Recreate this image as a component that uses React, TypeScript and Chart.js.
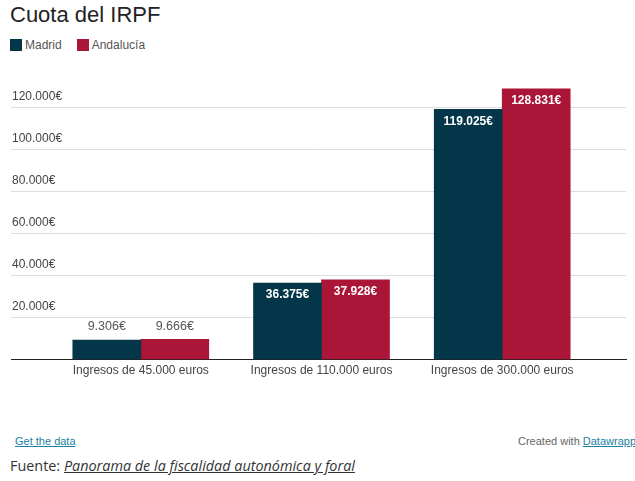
import React, { useEffect, useRef } from "react";
import { Chart, registerables } from "chart.js";

Chart.register(...registerables);

const categories = ["Ingresos de 45.000 euros", "Ingresos de 110.000 euros", "Ingresos de 300.000 euros"];
const madrid = [9306, 36375, 119025];
const andalucia = [9666, 37928, 128831];
const yTicks = [0, 20000, 40000, 60000, 80000, 100000, 120000];
const seriesNames = ["Madrid", "Andalucía"];
const colors = ["#04364a", "#ab1538"];

const fmt = (v: number) => String(Math.round(v)).replace(/\B(?=(\d{3})+(?!\d))/g, ".") + "€";

const labelPlugin = {
  id: "valueLabels",
  afterDatasetsDraw(chart: any) {
    const ctx = chart.ctx;
    ctx.save();
    chart.data.datasets.forEach((ds: any, di: number) => {
      const meta = chart.getDatasetMeta(di);
      meta.data.forEach((bar: any, i: number) => {
        const v = ds.data[i].y;
        const h = bar.base - bar.y;
        ctx.textAlign = "center";
        ctx.textBaseline = "middle";
        if (h > 30) {
          ctx.fillStyle = "#ffffff";
          ctx.font = "bold 12px 'Liberation Sans', Arial, sans-serif";
          ctx.fillText(fmt(v), bar.x, bar.y + 12);
        } else {
          ctx.fillStyle = "#555555";
          ctx.font = "12.5px 'Liberation Sans', Arial, sans-serif";
          ctx.fillText(fmt(v), bar.x, bar.y - 13);
        }
      });
    });
    ctx.restore();
  },
};

function BarChart() {
  const ref = useRef<HTMLCanvasElement>(null);
  useEffect(() => {
    const chart = new Chart(ref.current as HTMLCanvasElement, {
      type: "bar",
      data: {
        datasets: [
          {
            label: seriesNames[0],
            data: madrid.map((y, i) => ({ x: i, y })),
            backgroundColor: colors[0],
            barThickness: 68,
          },
          {
            label: seriesNames[1],
            data: andalucia.map((y, i) => ({ x: i, y })),
            backgroundColor: colors[1],
            barThickness: 68,
          },
        ],
      },
      options: {
        responsive: false,
        animation: false,
        devicePixelRatio: 1,
        layout: { padding: { left: 9, right: 9, top: 20, bottom: 8 } },
        plugins: { legend: { display: false }, tooltip: { enabled: false } },
        scales: {
          x: {
            type: "linear",
            offset: false,
            min: -0.7182,
            max: 2.685,
            grid: { display: false, drawTicks: false, offset: false },
            border: { display: true, color: "#222", width: 1 },
            afterBuildTicks: (s: any) => {
              s.ticks = categories.map((_, i) => ({ value: i }));
            },
            ticks: {
              autoSkip: false,
              maxRotation: 0,
              padding: 4,
              color: "#444",
              font: { family: "'Liberation Sans', Arial, sans-serif", size: 12 },
              callback: (v: any) => categories[v as number] ?? "",
            },
          },
          y: {
            min: 0,
            max: 133000,
            grid: { color: "#dddddd", drawTicks: false },
            border: { display: false },
            afterBuildTicks: (s: any) => {
              s.ticks = yTicks.map((v) => ({ value: v }));
            },
            ticks: {
              mirror: true,
              padding: 1,
              labelOffset: -11,
              color: "#444",
              font: { family: "'Liberation Sans', Arial, sans-serif", size: 12 },
              callback: (v: any) => (v === 0 ? "" : fmt(v as number)),
            },
          },
        },
      },
      plugins: [labelPlugin],
    } as any);
    return () => chart.destroy();
  }, []);
  return (
    <canvas
      ref={ref}
      width={635}
      height={330}
      style={{ position: "absolute", left: 0, top: 60, width: 635, height: 330 }}
    />
  );
}

export default function App() {
  const sans = "'Liberation Sans', Arial, sans-serif";
  return (
    <div
      style={{
        position: "fixed",
        left: 0,
        top: 0,
        width: 635,
        height: 481,
        background: "#fff",
        overflow: "hidden",
        fontFamily: sans,
      }}
    >
      <div style={{ position: "absolute", left: 10, top: 2, fontSize: 22, lineHeight: "26px", color: "#222" }}>
        Cuota del IRPF
      </div>
      <div style={{ position: "absolute", left: 10, top: 39, display: "flex", fontSize: 12, lineHeight: "12px", color: "#555" }}>
        {seriesNames.map((n, i) => (
          <div key={n} style={{ display: "flex", alignItems: "center", marginRight: 15 }}>
            <span style={{ display: "inline-block", width: 12, height: 12, background: colors[i], marginRight: 3 }} />
            <span>{n}</span>
          </div>
        ))}
      </div>
      <BarChart />
      <div style={{ position: "absolute", left: 15, top: 434, fontSize: 11, lineHeight: "14px", color: "#1d81a2", textDecoration: "underline" }}>
        Get the data
      </div>
      <div style={{ position: "absolute", left: 518, top: 434, fontSize: 11, lineHeight: "14px", color: "#666", whiteSpace: "nowrap" }}>
        Created with <span style={{ color: "#1d81a2", textDecoration: "underline" }}>Datawrapper</span>
      </div>
      <div
        style={{
          position: "absolute",
          left: 10,
          top: 456,
          fontSize: 14.4,
          lineHeight: "20px",
          color: "#333",
          fontFamily: "'Open Sans', 'Noto Sans', sans-serif",
          whiteSpace: "nowrap",
        }}
      >
        Fuente: <span style={{ fontStyle: "italic", textDecoration: "underline" }}>Panorama de la fiscalidad autonómica y foral</span>
      </div>
    </div>
  );
}
